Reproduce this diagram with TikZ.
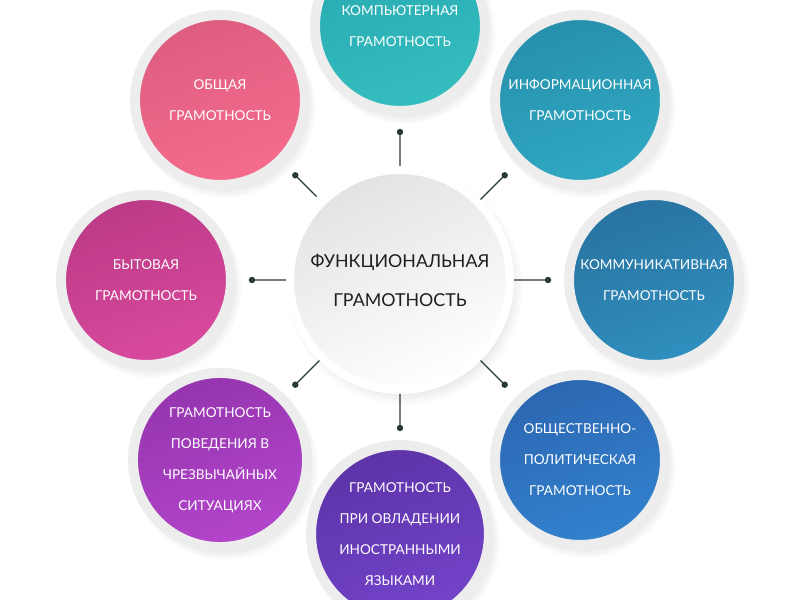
\documentclass[tikz,border=0pt]{standalone}
\usepackage{fontspec}
\setmainfont{Lato}
\usetikzlibrary{shadows}

\definecolor{slate}{HTML}{263838}
\definecolor{pinkA}{HTML}{DD5D7F}
\definecolor{pinkB}{HTML}{F66C8D}
\definecolor{tealA}{HTML}{27AAB0}
\definecolor{tealB}{HTML}{35BEC0}
\definecolor{cyanA}{HTML}{2690AB}
\definecolor{cyanB}{HTML}{31A9C4}
\definecolor{steelA}{HTML}{2872A0}
\definecolor{steelB}{HTML}{3090BF}
\definecolor{blueA}{HTML}{2C66B2}
\definecolor{blueB}{HTML}{3282CE}
\definecolor{violetA}{HTML}{5C33A8}
\definecolor{violetB}{HTML}{7444CA}
\definecolor{orchidA}{HTML}{9535AE}
\definecolor{orchidB}{HTML}{B445CC}
\definecolor{magentaA}{HTML}{BB3A86}
\definecolor{magentaB}{HTML}{DA4A9E}

\tikzset{
  skill/.style={circle, minimum size=85pt, line width=5pt, draw=black!7,
    text=white, align=center, font=\fontsize{6.8}{15.5}\selectfont,
    circular drop shadow={shadow xshift=2pt, shadow yshift=-3pt, shadow scale=1.08, opacity=0.22}},
  hub/.style={circle, minimum size=110pt, line width=4pt, draw=white,
    top color=black!11, bottom color=white, shading angle=25,
    text=black!88, align=center, font=\fontsize{8.9}{19.5}\selectfont,
    circular drop shadow={shadow xshift=2pt, shadow yshift=-3pt, shadow scale=1.08, opacity=0.22}},
  spoke/.style={line width=0.6pt, draw=slate, shorten <=2pt},
}

\begin{document}
\begin{tikzpicture}[x=0.5pt,y=0.5pt]
\useasboundingbox (0,0) rectangle (800,600);

% outer circles
\node[skill, top color=pinkA, bottom color=pinkB, shading angle=20] (gen) at (220,500) {ОБЩАЯ\\ГРАМОТНОСТЬ};
\node[skill, top color=tealA, bottom color=tealB, shading angle=20] (comp) at (400,574) {КОМПЬЮТЕРНАЯ\\ГРАМОТНОСТЬ};
\node[skill, top color=cyanA, bottom color=cyanB, shading angle=20] (info) at (580,500) {ИНФОРМАЦИОННАЯ\\ГРАМОТНОСТЬ};
\node[skill, top color=steelA, bottom color=steelB, shading angle=20] (comm) at (654,320) {КОММУНИКАТИВНАЯ\\ГРАМОТНОСТЬ};
\node[skill, top color=blueA, bottom color=blueB, shading angle=20] (soc) at (580,140) {ОБЩЕСТВЕННО-\\ПОЛИТИЧЕСКАЯ\\ГРАМОТНОСТЬ};
\node[skill, top color=violetA, bottom color=violetB, shading angle=20] (lang) at (400,66) {ГРАМОТНОСТЬ\\ПРИ ОВЛАДЕНИИ\\ИНОСТРАННЫМИ\\ЯЗЫКАМИ};
\node[skill, top color=orchidA, bottom color=orchidB, shading angle=20] (emer) at (220,140) {ГРАМОТНОСТЬ\\ПОВЕДЕНИЯ В\\ЧРЕЗВЫЧАЙНЫХ\\СИТУАЦИЯХ};
\node[skill, top color=magentaA, bottom color=magentaB, shading angle=20] (home) at (146,320) {БЫТОВАЯ\\ГРАМОТНОСТЬ};

% centre
\node[hub] (c) at (400,320) {ФУНКЦИОНАЛЬНАЯ\\ГРАМОТНОСТЬ};

\coordinate (d1) at (400,468);
\coordinate (d2) at (504.7,424.7);
\coordinate (d3) at (548,320);
\coordinate (d4) at (504.7,215.3);
\coordinate (d5) at (400,172);
\coordinate (d6) at (295.3,215.3);
\coordinate (d7) at (252,320);
\coordinate (d8) at (295.3,424.7);

\draw[spoke] (c)--(d1) (c)--(d2) (c)--(d3) (c)--(d4)
             (c)--(d5) (c)--(d6) (c)--(d7) (c)--(d8);
\fill[slate] (d1) circle (1.6pt) (d2) circle (1.6pt) (d3) circle (1.6pt) (d4) circle (1.6pt)
             (d5) circle (1.6pt) (d6) circle (1.6pt) (d7) circle (1.6pt) (d8) circle (1.6pt);
\end{tikzpicture}
\end{document}
